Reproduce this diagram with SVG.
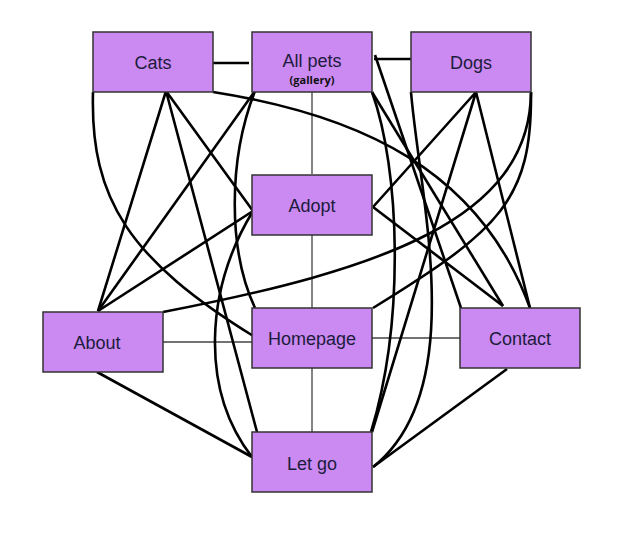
<svg xmlns="http://www.w3.org/2000/svg" width="632" height="533" viewBox="0 0 632 533">
<style>
.box{fill:#cb89f2;stroke:#333;stroke-width:1.5}
.lbl{font-family:"Liberation Sans",Arial,sans-serif;font-size:18px;fill:#1c1c3c;text-anchor:middle}
.sub{font-family:"Open Sans","Liberation Sans",sans-serif;font-size:11px;font-weight:bold;fill:#111;text-anchor:middle}
.thin{stroke:#444;stroke-width:1.3;fill:none}
.thick{stroke:#000;stroke-width:2.6;fill:none}
</style>
<rect width="632" height="533" fill="#fff"/>
<g id="connectors">
<path class="thin" d="M312,92V174M312,234V308M312,368V432M163,342H252M372,338H460"/>
<path class="thick" d="M213,63H249M374,59H411"/>
<path class="thick" d="M166,91L98,311M166,91L253,211M166,91L257,432"/>
<path class="thick" d="M93,92C90,200 130,260 255,337"/>
<path class="thick" d="M213,92C360,115 480,170 530,308"/>
<path class="thick" d="M255,91L98,311"/>
<path class="thick" d="M255,91C228,160 228,250 255,308"/>
<path class="thick" d="M253,211L98,311"/>
<path class="thick" d="M253,211C205,290 200,390 252,457"/>
<path class="thick" d="M97,372L252,457"/>
<path class="thick" d="M476,92L530,308M476,92L373,207M476,92L372,432"/>
<path class="thick" d="M531,92C532,200 500,230 373,308"/>
<path class="thick" d="M163,312C380,270 530,220 531,92"/>
<path class="thick" d="M375,55L461,308"/>
<path class="thick" d="M372,92L503,306"/>
<path class="thick" d="M372,92C400,170 405,320 371,432"/>
<path class="thick" d="M411,92C420,200 470,390 373,467"/>
<path class="thick" d="M373,207L503,306"/>
<path class="thick" d="M507,369L373,467"/>
</g>
<g id="cats"><rect class="box" x="93" y="32" width="120" height="60"/><text class="lbl" x="153" y="69">Cats</text></g>
<g id="allpets"><rect class="box" x="252" y="32" width="120" height="60"/><text class="lbl" x="312" y="67">All pets</text><text class="sub" x="312" y="84">(gallery)</text></g>
<g id="dogs"><rect class="box" x="411" y="32" width="120" height="60"/><text class="lbl" x="471" y="69">Dogs</text></g>
<g id="adopt"><rect class="box" x="252" y="175" width="120" height="60"/><text class="lbl" x="312" y="212">Adopt</text></g>
<g id="about"><rect class="box" x="43" y="312" width="120" height="60"/><text class="lbl" x="97" y="349">About</text></g>
<g id="homepage"><rect class="box" x="252" y="308" width="120" height="60"/><text class="lbl" x="312" y="345">Homepage</text></g>
<g id="contact"><rect class="box" x="460" y="308" width="120" height="60"/><text class="lbl" x="520" y="345">Contact</text></g>
<g id="letgo"><rect class="box" x="252" y="432" width="120" height="60"/><text class="lbl" x="312" y="470">Let go</text></g>
</svg>
